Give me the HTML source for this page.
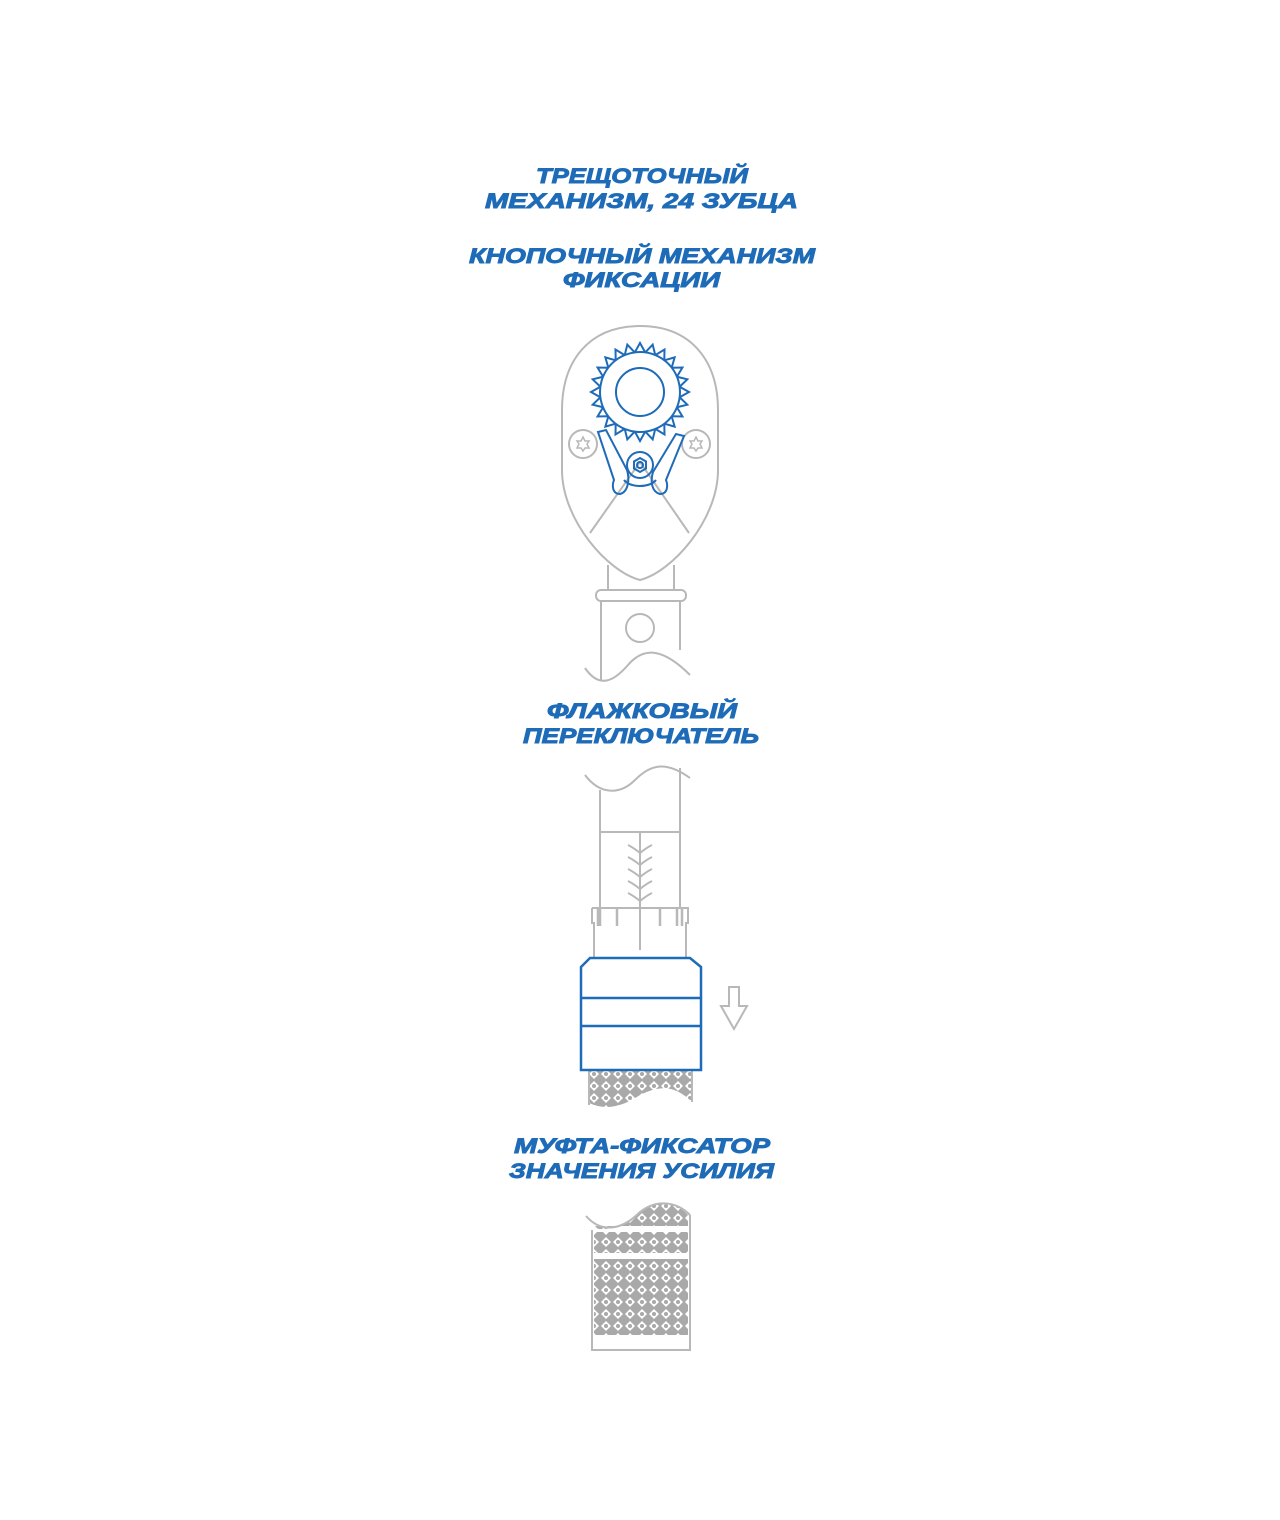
<!DOCTYPE html>
<html><head><meta charset="utf-8"><style>
html,body{margin:0;padding:0;background:#fff;}
svg{display:block}
text{font-family:"Liberation Sans",sans-serif;font-weight:bold;font-style:italic;fill:#1e6bb8;stroke:#1e6bb8;stroke-width:0.9;font-size:21px;}
</style></head><body>
<svg width="1280" height="1520" viewBox="0 0 1280 1520" xmlns="http://www.w3.org/2000/svg">
<defs>
<pattern id="kn" width="12" height="12" patternUnits="userSpaceOnUse">
<rect width="12" height="12" fill="#a9a9a9"/>
<path d="M6,1 L11,6 L6,11 L1,6Z" fill="#fff"/>
<circle cx="6" cy="6" r="2" fill="#a9a9a9"/>
</pattern>
<path id="tooth" d="M39.6,-5.2 L49,0 L39.6,5.2" fill="none" stroke="#1e6bb8" stroke-width="2"/>
</defs>

<text x="536" y="183" textLength="212" lengthAdjust="spacingAndGlyphs">ТРЕЩОТОЧНЫЙ</text>
<text x="485" y="208" textLength="313" lengthAdjust="spacingAndGlyphs">МЕХАНИЗМ, 24 ЗУБЦА</text>
<text x="469" y="263" textLength="346" lengthAdjust="spacingAndGlyphs">КНОПОЧНЫЙ МЕХАНИЗМ</text>
<text x="563" y="287" textLength="157" lengthAdjust="spacingAndGlyphs">ФИКСАЦИИ</text>
<text x="547" y="718" textLength="190" lengthAdjust="spacingAndGlyphs">ФЛАЖКОВЫЙ</text>
<text x="523" y="743" textLength="236" lengthAdjust="spacingAndGlyphs">ПЕРЕКЛЮЧАТЕЛЬ</text>
<text x="514" y="1153" textLength="256" lengthAdjust="spacingAndGlyphs">МУФТА-ФИКСАТОР</text>
<text x="509" y="1178" textLength="265" lengthAdjust="spacingAndGlyphs">ЗНАЧЕНИЯ УСИЛИЯ</text>

<g fill="none" stroke="#b8b8b8" stroke-width="2">
<path d="M640,326 C692,326 718,362 718,410 L718,470 C718,520 672,572 640,580 C608,572 562,520 562,470 L562,410 C562,362 588,326 640,326Z"/>
<path d="M590,533 L640,462 L689,533"/>
<circle cx="583" cy="444" r="14"/>
<circle cx="696" cy="444" r="14"/>
<path d="M608,565 L608,590 M674,565 L674,590"/>
<rect x="596" y="590" width="90" height="11" rx="5"/>
<path d="M601,601 L601,680 M680,601 L680,650"/>
<circle cx="640" cy="628" r="14"/>
<path d="M585,668 C600,690 615,680 628,665 C645,645 665,650 690,675"/>
<path d="M585,775 C600,795 620,795 635,780 C650,765 665,760 690,778"/>
<path d="M600,790 L600,908 M680,768 L680,908 M600,832 L680,832 M640,832 L640,950"/>
<path d="M628,845 q6,3 12,8 q6,-5 12,-8 M628,857 q6,3 12,8 q6,-5 12,-8 M628,869 q6,3 12,8 q6,-5 12,-8 M628,881 q6,3 12,8 q6,-5 12,-8 M628,893 q6,3 12,8 q6,-5 12,-8"/>
<path d="M592,908 L688,908 L688,923 L686,923 L686,958 M592,908 L592,923 L594,923 L594,958"/>
<path d="M600,908 v18 M617,908 v18 M660,908 v18 M677,908 v18 M682,908 v18 M598,908 v18" stroke-width="2.5"/>
<path d="M729,987 h10 v19 h8 l-13,23 l-13,-23 h8 z"/>
<path d="M592,1230 L592,1350 L690,1350 L690,1215"/>
</g>
<path d="M589,1070 L692,1070 L692,1102 C675,1085 660,1085 640,1095 C620,1108 605,1110 589,1103Z" fill="url(#kn)"/>
<path d="M589,1070 L589,1105 M692,1070 L692,1102" stroke="#b8b8b8" stroke-width="2"/>
<path d="M594,1228 C610,1232 625,1225 640,1212 C655,1200 675,1200 688,1215 L688,1226 L594,1226Z" fill="url(#kn)"/>
<rect x="594" y="1232" width="94" height="21" fill="url(#kn)"/>
<rect x="594" y="1259" width="94" height="76" fill="url(#kn)"/>
<path d="M586,1216 C600,1232 620,1232 640,1212 C655,1200 675,1200 690,1215" fill="none" stroke="#b8b8b8" stroke-width="2"/>

<g fill="none" stroke="#1e6bb8" stroke-width="2.5">
<path d="M590,958 L690,958 L701,967 L701,1070 L581,1070 L581,967Z"/>
<path d="M581,998 L701,998 M581,1026 L701,1026"/>
</g>

<g transform="translate(640,392)">
<use href="#tooth"/><use href="#tooth" transform="rotate(15)"/><use href="#tooth" transform="rotate(30)"/><use href="#tooth" transform="rotate(45)"/><use href="#tooth" transform="rotate(60)"/><use href="#tooth" transform="rotate(75)"/><use href="#tooth" transform="rotate(90)"/><use href="#tooth" transform="rotate(105)"/><use href="#tooth" transform="rotate(120)"/><use href="#tooth" transform="rotate(135)"/><use href="#tooth" transform="rotate(150)"/><use href="#tooth" transform="rotate(165)"/><use href="#tooth" transform="rotate(180)"/><use href="#tooth" transform="rotate(195)"/><use href="#tooth" transform="rotate(210)"/><use href="#tooth" transform="rotate(225)"/><use href="#tooth" transform="rotate(240)"/><use href="#tooth" transform="rotate(255)"/><use href="#tooth" transform="rotate(270)"/><use href="#tooth" transform="rotate(285)"/><use href="#tooth" transform="rotate(300)"/><use href="#tooth" transform="rotate(315)"/><use href="#tooth" transform="rotate(330)"/><use href="#tooth" transform="rotate(345)"/>
<circle r="40" fill="none" stroke="#1e6bb8" stroke-width="2"/>
<circle r="24" fill="none" stroke="#1e6bb8" stroke-width="2"/>
</g>
<g fill="none" stroke="#1e6bb8" stroke-width="2">
<path d="M598,432 L606,430 L627,470 C630,480 628,492 620,494 C612,494 612,485 614,480 Z"/>
<path d="M684,436 L676,434 L653,472 C650,482 652,492 660,494 C668,494 668,485 666,480 Z"/>
<circle cx="640" cy="465" r="13"/>
<path d="M640,458 l6,3.5 v7 l-6,3.5 l-6,-3.5 v-7z"/>
<circle cx="640" cy="465" r="3"/>
<path d="M624,480 C630,488 650,488 656,480"/>
</g>
<g fill="none" stroke="#b8b8b8" stroke-width="1.5">
<path d="M583,437 l2,4 4,0 -2,3 2,4 -4,0 -2,3 -2,-3 -4,0 2,-4 -2,-3 4,0z"/>
<path d="M696,437 l2,4 4,0 -2,3 2,4 -4,0 -2,3 -2,-3 -4,0 2,-4 -2,-3 4,0z"/>
</g>
</svg>
</body></html>
